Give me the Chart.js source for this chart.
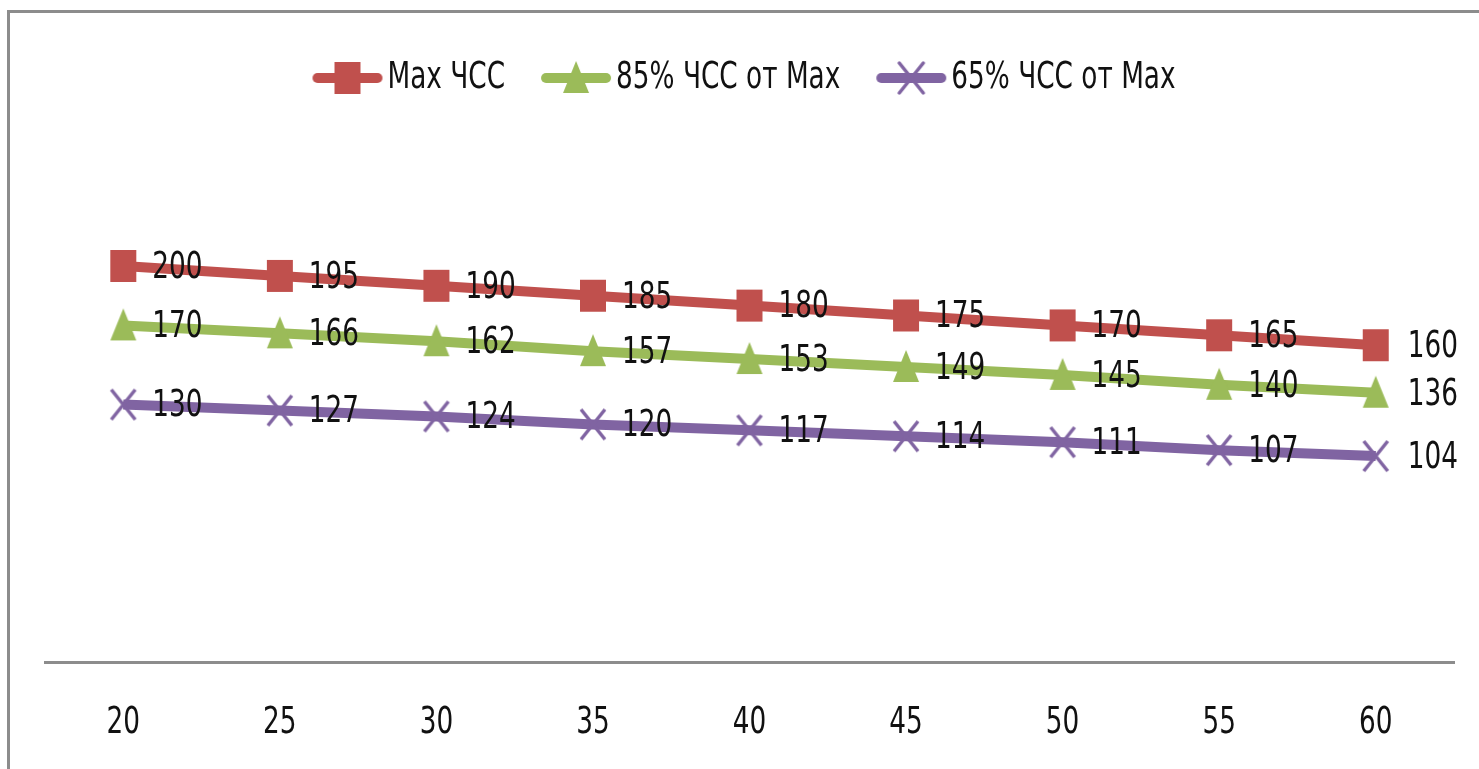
<!DOCTYPE html>
<html>
<head>
<meta charset="utf-8">
<script src="https://cdn.jsdelivr.net/npm/chart.js@4/dist/chart.umd.min.js"></script>
<style>
  html, body { margin: 0; padding: 0; background: #fff; overflow: hidden; }
  #frame { position: absolute; left: 7px; top: 10px; width: 1600px; height: 900px;
           border-left: 3px solid #8c8c8c; border-top: 3px solid #8c8c8c; }
  #wrap { position: absolute; left: 0; top: 0; width: 1479px; height: 769px; }
</style>
</head>
<body>
<div id="frame"></div>
<div id="wrap"><canvas id="chart"></canvas></div>
<script>
// --- data ---
const ages = ['20', '25', '30', '35', '40', '45', '50', '55', '60'];
const maxHr = [200, 195, 190, 185, 180, 175, 170, 165, 160];
const hr85 = [170, 166, 162, 157, 153, 149, 145, 140, 136];
const hr65 = [130, 127, 124, 120, 117, 114, 111, 107, 104];
const seriesNames = ['Max ЧСС', '85% ЧСС от Max', '65% ЧСС от Max'];

const RED = '#C0504D';
const GREEN = '#9BBB59';
const PURPLE = '#8064A2';
const FONT = '"DejaVu Sans Condensed", "Liberation Sans Narrow", sans-serif';
const FONT_SIZE = 38;
const TEXT_SQUEEZE = 0.77; // the original font is much narrower than anything installed

// marker drawn on a small canvas so it can be a bit taller than wide
function drawMarker(ctx, kind, color, cx, cy) {
    ctx.fillStyle = color;
    ctx.strokeStyle = color;
    if (kind === 'square') {
        ctx.fillRect(cx - 13, cy - 16, 26, 32);
    } else if (kind === 'triangle') {
        ctx.beginPath();
        ctx.moveTo(cx, cy - 17);
        ctx.lineTo(cx + 13, cy + 15);
        ctx.lineTo(cx - 13, cy + 15);
        ctx.closePath();
        ctx.fill();
    } else {
        ctx.lineWidth = 3.5;
        ctx.beginPath();
        ctx.moveTo(cx - 12, cy - 15);
        ctx.lineTo(cx + 12, cy + 15);
        ctx.moveTo(cx + 12, cy - 15);
        ctx.lineTo(cx - 12, cy + 15);
        ctx.stroke();
    }
}

function makeMarker(kind, color) {
    const c = document.createElement('canvas');
    c.width = 30;
    c.height = 36;
    drawMarker(c.getContext('2d'), kind, color, 15, 18);
    return c;
}

function makeLegendIcon(kind, color) {
    const c = document.createElement('canvas');
    c.width = 72;
    c.height = 38;
    const ctx = c.getContext('2d');
    ctx.strokeStyle = color;
    ctx.lineWidth = 10;
    ctx.lineCap = 'round';
    ctx.beginPath();
    ctx.moveTo(6, 19);
    ctx.lineTo(66, 19);
    ctx.stroke();
    drawMarker(ctx, kind, color, 36, 19);
    return c;
}

const kinds = ['square', 'triangle', 'cross'];
const colors = [RED, GREEN, PURPLE];
const values = [maxHr, hr85, hr65];
const legendIcons = kinds.map((k, i) => makeLegendIcon(k, colors[i]));

// squeeze every text horizontally (measure + draw) on the chart context
const narrowText = {
    id: 'narrowText',
    beforeInit(chart) {
        const ctx = chart.ctx;
        const fill = ctx.fillText.bind(ctx);
        const measure = ctx.measureText.bind(ctx);
        ctx.fillText = function (text, x, y) {
            ctx.save();
            ctx.translate(x, y);
            ctx.scale(TEXT_SQUEEZE, 1);
            fill(text, 0, 0);
            ctx.restore();
        };
        ctx.measureText = function (text) {
            const m = measure(text);
            return {
                width: m.width * TEXT_SQUEEZE,
                actualBoundingBoxAscent: m.actualBoundingBoxAscent,
                actualBoundingBoxDescent: m.actualBoundingBoxDescent,
                actualBoundingBoxLeft: m.actualBoundingBoxLeft * TEXT_SQUEEZE,
                actualBoundingBoxRight: m.actualBoundingBoxRight * TEXT_SQUEEZE
            };
        };
    }
};

// value labels to the right of each point
const pointLabels = {
    id: 'pointLabels',
    afterDatasetsDraw(chart) {
        const ctx = chart.ctx;
        ctx.save();
        ctx.font = FONT_SIZE + 'px ' + FONT;
        ctx.fillStyle = '#111';
        ctx.textAlign = 'left';
        ctx.textBaseline = 'middle';
        chart.data.datasets.forEach((ds, i) => {
            const meta = chart.getDatasetMeta(i);
            meta.data.forEach((pt, j) => {
                const dx = j === ds.data.length - 1 ? 32 : 29;
                ctx.fillText(String(ds.data[j]), pt.x + dx, pt.y + 2);
            });
        });
        ctx.restore();
    }
};

// fixed legend height so the plot area starts where it should
const legendHeight = {
    id: 'legendHeight',
    beforeInit(chart) {
        const fit = chart.legend.fit;
        chart.legend.fit = function () {
            fit.call(this);
            this.height = 158;
        };
    }
};

new Chart(document.getElementById('chart'), {
    type: 'line',
    data: {
        labels: ages,
        datasets: values.map((v, i) => ({
            label: seriesNames[i],
            data: v,
            borderColor: colors[i],
            backgroundColor: colors[i],
            borderWidth: 10,
            pointStyle: makeMarker(kinds[i], colors[i]),
            pointRadius: 15,
            pointHoverRadius: 15,
            tension: 0,
            clip: false
        }))
    },
    options: {
        responsive: true,
        maintainAspectRatio: false,
        animation: false,
        layout: { padding: { left: 45, right: 22, top: 9, bottom: 24 } },
        scales: {
            x: {
                offset: true,
                grid: { display: false, drawTicks: false },
                border: { display: true, color: '#8c8c8c', width: 3 },
                ticks: {
                    padding: 38,
                    color: '#111',
                    font: { family: FONT, size: FONT_SIZE }
                },
                afterFit(scale) { scale.height = 83; }
            },
            y: {
                display: false,
                min: 0,
                max: 250
            }
        },
        plugins: {
            legend: {
                position: 'top',
                labels: {
                    usePointStyle: true,
                    pointStyleWidth: 42,
                    padding: 50,
                    color: '#111',
                    font: { family: FONT, size: FONT_SIZE },
                    generateLabels(chart) {
                        const items = Chart.defaults.plugins.legend.labels.generateLabels(chart);
                        items.forEach((it, i) => { it.pointStyle = legendIcons[i]; });
                        return items;
                    }
                }
            },
            tooltip: { enabled: false }
        }
    },
    plugins: [narrowText, legendHeight, pointLabels]
});
</script>
</body>
</html>
